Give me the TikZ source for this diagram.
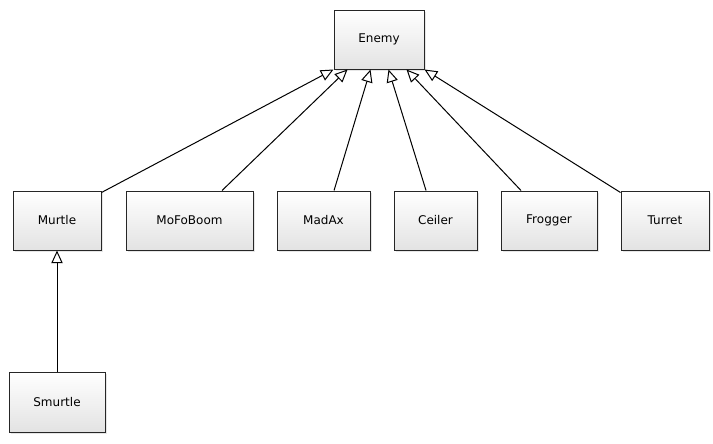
\documentclass[tikz,border=0pt]{standalone}
\usepackage{fontspec}
\setmainfont{DejaVu Sans}
\usetikzlibrary{arrows.meta,shadows}

\begin{document}
\begin{tikzpicture}[x=0.75pt, y=-0.75pt,
        cls/.style={rectangle, draw=black!85, line width=0.75pt, top color=white, bottom color=black!11, minimum height=44.25pt, inner sep=0pt, font=\fontsize{9}{10}\selectfont, drop shadow={shadow xshift=1.5pt, shadow yshift=-1.5pt, opacity=0.2}},
        inherit/.style={draw=black, line width=0.75pt, -{Triangle[length=9.5pt, width=8.5pt, fill=white]}},]

        \useasboundingbox (0,0) rectangle (713,443);

        % Classes
        \node[cls, minimum width=67.5pt] (enemy) at (379,39.5) {Enemy};
        \node[cls, minimum width=66pt] (murtle) at (57,220.5) {Murtle};
        \node[cls, minimum width=95.25pt] (mofoboom) at (189.5,220.5) {MoFoBoom};
        \node[cls, minimum width=69.75pt] (madax) at (323.5,220.5) {MadAx};
        \node[cls, minimum width=62.25pt] (ceiler) at (435.5,220.5) {Ceiler};
        \node[cls, minimum width=72pt] (frogger) at (549,220.5) {Frogger};
        \node[cls, minimum width=66pt] (turret) at (665,220.5) {Turret};
        \node[cls, minimum width=72pt, minimum height=45pt] (smurtle) at (57,402) {Smurtle};

        %Links
        \draw[inherit] ([yshift=-1.5pt]murtle.north east) -- (enemy.south west);
        \draw[inherit] ([xshift=24.4pt]mofoboom.north) -- ([xshift=10.5pt]enemy.south west);
        \draw[inherit] ([xshift=7.9pt]madax.north) -- ([xshift=27.75pt]enemy.south west);
        \draw[inherit] ([xshift=-7.1pt]ceiler.north) -- ([xshift=41.25pt]enemy.south west);
        \draw[inherit] ([xshift=-21pt]frogger.north) -- ([xshift=54.75pt]enemy.south west);
        \draw[inherit] ([yshift=-1.5pt]turret.north west) -- (enemy.south east);
        \draw[inherit] (smurtle.north) -- (murtle.south);
    \end{tikzpicture}
\end{document}
